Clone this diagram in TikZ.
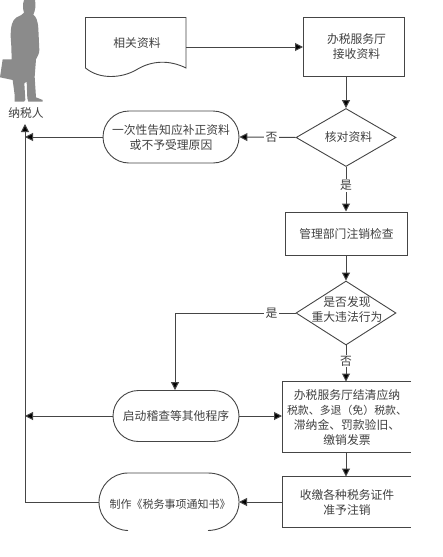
\documentclass[tikz,border=0pt]{standalone}
\usepackage{fontspec}
\setmainfont{Noto Sans CJK SC}
\usetikzlibrary{arrows.meta,shapes.geometric,shapes.misc}
\definecolor{ln}{gray}{0.27}
\definecolor{tx}{gray}{0.25}
\tikzset{
  lbl/.style={font=\fontsize{11.8}{15}\selectfont,text=tx,align=center,inner sep=0pt},
  boxn/.style={draw=ln,line width=1pt,rectangle,inner sep=0pt,lbl},
  pill/.style={draw=ln,line width=0.9pt,rounded rectangle,inner sep=0pt,lbl},
  dia/.style={draw=ln,line width=0.9pt,diamond,aspect=1.72,inner sep=0pt,minimum width=100pt,minimum height=58pt},
  conn/.style={draw=ln,line width=1pt,-{Triangle[length=8pt,width=8pt,fill=black]}},
  plain/.style={draw=ln,line width=1pt},
  yn/.style={lbl,fill=white,inner xsep=2pt,inner ysep=1pt}
}
\begin{document}
\begin{tikzpicture}[x=1pt,y=-1pt]
\useasboundingbox (0,0) rectangle (443,557);
% person
\begin{scope}[x=0.3333pt,y=-0.3333pt]
\fill[gray!60!black!65] (72,0) -- (105,0) .. controls (108,15) and (106,32) .. (100,44) .. controls (108,50) and (113,60) .. (115,85)
 -- (118,150) .. controls (118,162) and (112,170) .. (108,178) -- (104,230) -- (108,292) -- (128,300) -- (128,305) -- (85,305) -- (82,295) -- (80,245) -- (73,250) -- (76,300) -- (72,305) -- (44,305) -- (44,285) -- (38,240) -- (0,232) -- (8,178) -- (16,178) -- (35,178) -- (34,140) -- (32,110) .. controls (32,80) and (36,60) .. (50,52) .. controls (62,46) and (68,44) .. (72,38) .. controls (68,25) and (68,12) .. (72,0) -- cycle;
\end{scope}
\node[lbl] (person) at (26,113) {纳税人};
% document
\node[lbl] (doc) at (137,43) {相关资料};
\coordinate (docE) at (186,47);
\draw[draw=ln,line width=0.9pt] (186,17.5) -- (85.5,17.5) -- (85.5,68) .. controls (100,80) and (122,78) .. (136,70) .. controls (152,60) and (170,60) .. (186,68) -- cycle;
% right column
\node[boxn,minimum width=101pt,minimum height=59pt] (recv) at (354,46.5) {\hspace*{5pt}办税服务厅\\\hspace*{5pt}接收资料};
\node[dia] (check) at (346,137.5) {};
\node[lbl] (checkT) at (348.5,137.5) {核对资料};
\node[boxn,minimum width=121.5pt,minimum height=43pt] (mgmt) at (346.5,233.5) {管理部门注销检查};
\node[dia,aspect=1.5625,minimum height=64pt] (major) at (346,313) {};
\node[lbl] (majorT) at (347,309.5) {是否发现\\重大违法行为};
\node[lbl] (settle) at (347,417) {办税服务厅结清应纳\\{\fontsize{10.9}{15}\selectfont 税款、多退（免）税款、}\\滞纳金、罚款验旧、\\缴销发票};
\node[lbl] (cancel) at (347,502) {收缴各种税务证件\\准予注销};
\coordinate (s1) at (282,381.5); \coordinate (s2) at (411,381.5);
\coordinate (s3) at (282,452.5); \coordinate (s4) at (411,452.5);
\coordinate (c1) at (282,476.5); \coordinate (c2) at (411,476.5);
\coordinate (c3) at (282,527); \coordinate (c4) at (411,527);
\coordinate (settleW) at (282,416); \coordinate (cancelW) at (282,502);
\coordinate (settleN) at (346,381.5); \coordinate (settleS) at (346,452.5);
\coordinate (cancelN) at (346,476.5);
\draw[plain] (s2) -- (s1) -- (s3) -- (s4);
\draw[plain] (c2) -- (c1) -- (c3) -- (c4);
% left pills
\node[pill,minimum width=136pt,minimum height=52pt] (inform) at (171,137) {一次性告知应补正资料\\或不予受理原因};
\node[pill,minimum width=126pt,minimum height=51pt] (audit) at (176,416) {启动稽查等其他程序};
\node[lbl,font=\fontsize{11}{15}\selectfont] (notice) at (170,504) {制作《税务事项通知书》};
\coordinate (noticeW) at (99,502); \coordinate (noticeE) at (239,502);
\draw[draw=ln,line width=0.9pt] (128,530.5) .. controls (112,530) and (99,518) .. (noticeW) .. controls (99,486) and (112,473) .. (128,473) -- (208,473) .. controls (226,473) and (239,486) .. (noticeE) .. controls (239,518) and (226,530) .. (208,530.5);
% connectors
\coordinate (lineB) at (25,502);
\coordinate (j1) at (25,137);
\coordinate (j2) at (25,416);
\coordinate (personS) at (25,124);
\coordinate (turn) at (175,313);
\draw[conn] (docE) -- (recv.west |- docE);
\draw[conn] (recv.south -| check.north) -- (check.north);
\draw[conn] (check.south) -- node[yn,pos=.42] (yes1) {是} (check.south |- mgmt.north);
\draw[conn] (mgmt.south -| major.north) -- (major.north);
\draw[conn] (check.west) -- node[yn,pos=.43] (no1) {否} (inform.east);
\draw[conn] (major.south) -- node[yn,pos=.43] (no2) {否} (settleN);
\draw[conn] (major.west) -- node[yn,pos=.2] (yes2) {是} (turn) -- (turn |- audit.north);
\draw[conn] (settleS) -- (cancelN);
\draw[conn] (audit.east) -- (settleW);
\draw[conn] (cancelW) -- (noticeE);
\draw[conn] (inform.west) -- (j1);
\draw[conn] (audit.west) -- (j2);
\draw[conn] (noticeW) -- (lineB) -- (personS);
\end{tikzpicture}
\end{document}
